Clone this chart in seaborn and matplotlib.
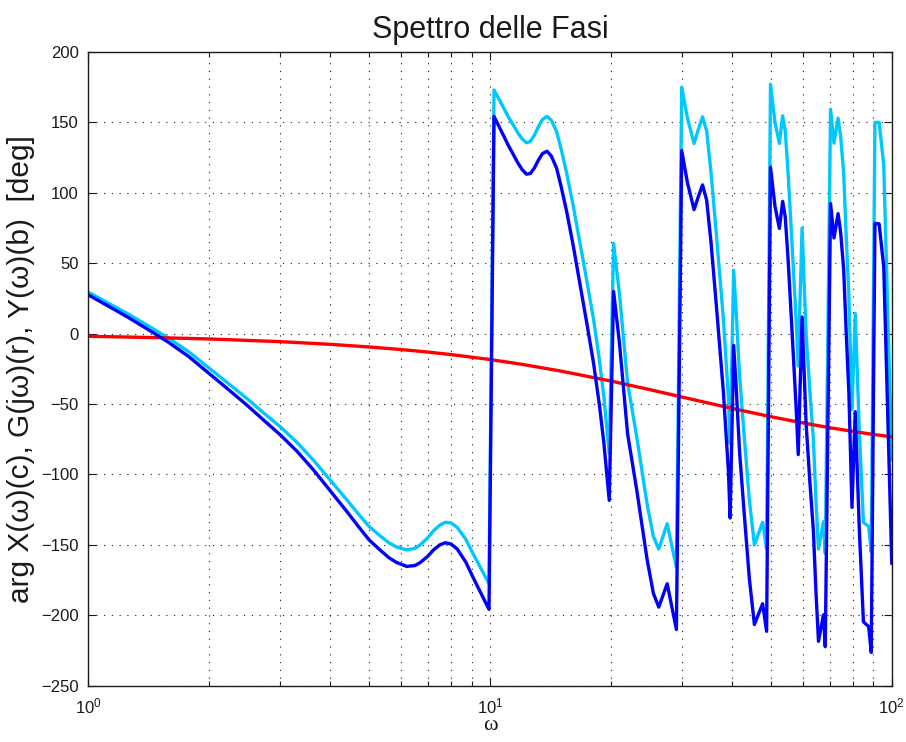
import numpy as np
import pandas as pd
import matplotlib
matplotlib.use("Agg")
import matplotlib.pyplot as plt
import seaborn as sns
from matplotlib.ticker import LogLocator, NullFormatter

# Frequency grid (rad/s) shared by the input X and output Y phase curves
omega_xy = [
    1.00, 1.12, 1.25, 1.41, 1.58, 1.78, 2.00, 2.20, 2.48, 2.75, 3.00, 3.30,
    3.63, 4.00, 4.40, 4.70, 5.00, 5.32, 5.60, 5.85, 6.20, 6.50, 6.70, 7.00,
    7.23, 7.50, 7.74, 8.00, 8.28, 8.70, 9.10, 9.50, 9.94,
    10.23, 10.50, 10.80, 11.10, 11.40, 11.70, 12.00, 12.32, 12.60, 12.90,
    13.20, 13.50, 13.86, 14.20, 14.64, 15.00,
    15.50, 16.10, 16.70, 17.40, 18.10, 18.70, 19.20, 19.80,
    20.30, 21.00, 22.00, 23.20, 24.60, 25.50, 26.30, 27.60, 29.10,
    30.00, 31.00, 32.20, 33.00, 33.80, 34.60, 35.50, 36.70, 38.10, 39.20, 39.60,
    40.40, 41.00, 41.80, 42.90, 44.20, 45.50, 47.70, 48.80,
    49.90, 51.20, 52.50, 53.50, 54.30, 55.20, 56.40, 57.80, 58.50,
    59.80, 61.20, 62.50, 63.80, 64.80, 65.70, 67.60, 68.30,
    70.40, 71.80, 73.50, 74.60, 75.90, 77.00, 78.20, 79.60,
    81.10, 83.00, 85.00, 87.60, 88.90,
    90.80, 93.00, 95.50, 100.0,
]

# arg X(w) in degrees (cyan)
phase_x = [
    29.4, 21.7, 14.3, 5.5, -3.0, -13.0, -24.6, -34.0, -46.0, -57.0, -66.0, -77.0,
    -89.7, -104.0, -118.0, -128.0, -137.0, -143.5, -148.5, -151.5, -153.6, -152.5, -150.0, -145.0,
    -140.0, -136.0, -134.0, -134.5, -137.5, -146.0, -157.0, -167.0, -177.5,
    173.0, 167.0, 160.5, 154.0, 148.5, 143.0, 138.5, 135.5, 136.5, 141.0,
    147.0, 152.0, 154.3, 151.5, 143.6, 132.0,
    114.5, 91.0, 66.0, 38.0, 10.0, -18.0, -45.0, -85.0,
    64.0, 28.0, -35.0, -74.0, -121.0, -144.0, -153.0, -135.0, -166.0,
    175.0, 153.0, 135.0, 145.0, 154.0, 144.0, 114.0, 66.0, 10.0, -45.0, -78.0,
    45.0, 15.0, -30.0, -72.0, -118.0, -150.0, -134.0, -153.0,
    177.0, 150.0, 135.0, 154.6, 144.0, 114.0, 66.0, 10.0, -23.0,
    75.0, 0.0, -40.0, -75.0, -120.0, -153.0, -133.5, -156.0,
    159.3, 135.2, 153.0, 140.0, 114.0, 70.0, 27.0, -54.0,
    14.2, -68.0, -134.0, -137.0, -155.0,
    150.0, 150.0, 120.0, -90.0,
]

# arg Y(w) in degrees (blue)
phase_y = [
    27.5, 19.6, 11.9, 2.8, -6.0, -16.4, -28.4, -38.2, -50.7, -62.2, -71.7, -83.3,
    -96.6, -111.6, -126.3, -136.9, -146.5, -153.6, -159.1, -162.5, -165.3, -164.7, -162.6, -158.1,
    -153.6, -150.0, -148.5, -149.4, -152.9, -162.2, -173.9, -184.6, -195.8,
    154.2, 147.7, 140.7, 133.7, 127.7, 121.7, 116.7, 113.2, 113.7, 117.7,
    123.3, 127.8, 129.5, 126.2, 117.6, 105.4,
    87.2, 62.8, 36.9, 7.9, -21.1, -49.9, -77.6, -118.4,
    29.9, -7.0, -71.3, -111.7, -160.4, -184.4, -194.2, -177.6, -210.1,
    130.0, 107.1, 88.0, 97.3, 105.6, 94.9, 64.2, 15.3, -41.8, -97.6, -130.9,
    -8.4, -38.8, -84.3, -127.0, -173.8, -206.6, -191.8, -211.4,
    118.0, 90.4, 74.7, 93.9, 82.9, 52.5, 4.0, -52.6, -85.9,
    11.7, -63.9, -104.4, -139.8, -185.2, -218.5, -199.6, -222.3,
    92.4, 67.9, 85.2, 71.9, 45.6, 1.3, -42.0, -123.4,
    -55.5, -138.1, -204.6, -208.1, -226.4,
    78.3, 77.9, 47.4, -163.3,
]

# arg G(jw) in degrees (red)
omega_g = [1, 1.5, 2, 3, 4, 5, 6, 7, 8, 10, 12, 15, 20, 25, 30, 40, 50, 60, 70, 80, 90, 100]
phase_g = [-1.9, -2.9, -3.8, -5.7, -7.6, -9.5, -11.3, -13.1, -14.9, -18.4, -21.8, -26.6,
           -33.7, -39.8, -45.0, -53.1, -59.0, -63.4, -66.8, -69.4, -71.6, -73.3]

y_ticks = list(range(-250, 201, 50))

df_xy = pd.DataFrame({"omega": omega_xy, "X": phase_x, "Y": phase_y})
df_g = pd.DataFrame({"omega": omega_g, "G": phase_g})

sns.set_theme(style="white")
plt.rcParams["font.family"] = ["Liberation Sans", "DejaVu Sans"]
plt.rcParams["mathtext.fontset"] = "custom"
plt.rcParams["mathtext.rm"] = "Liberation Sans"

fig = plt.figure(figsize=(9.06, 7.42), dpi=100)
fig.patch.set_facecolor("white")
ax = fig.add_axes([0.0975, 0.0759, 0.8868, 0.8541])
ax.set_facecolor("white")

lw = 2.4
sns.lineplot(data=df_xy, x="omega", y="X", ax=ax, color="#00c8ff", lw=lw,
             estimator=None, sort=False, legend=False)
sns.lineplot(data=df_g, x="omega", y="G", ax=ax, color="#ff0000", lw=lw,
             estimator=None, sort=False, legend=False)
sns.lineplot(data=df_xy, x="omega", y="Y", ax=ax, color="#0000ff", lw=lw,
             estimator=None, sort=False, legend=False)

ax.set_xscale("log")
ax.set_xlim(1, 100)
ax.set_ylim(-250, 200)
ax.set_yticks(y_ticks)
ax.xaxis.set_major_locator(LogLocator(base=10))
ax.xaxis.set_minor_locator(LogLocator(base=10, subs=np.arange(2, 10)))
ax.xaxis.set_minor_formatter(NullFormatter())

dot = (0, (1, 6))
ax.set_axisbelow(True)
ax.grid(True, which="major", ls=dot, lw=0.8, color="k")
ax.grid(True, which="minor", axis="x", ls=dot, lw=0.8, color="k")

ax.tick_params(which="both", direction="in", top=True, right=True,
               bottom=True, left=True, color="k", width=0.8)
ax.tick_params(which="major", length=6, labelsize=12, labelcolor="k")
ax.tick_params(axis="x", which="major", pad=7.5)
ax.tick_params(axis="y", which="major", pad=7)
ax.tick_params(which="minor", length=3.5)
for s in ax.spines.values():
    s.set_color("k")
    s.set_linewidth(1.0)

ax.set_title("Spettro delle Fasi", fontsize=22, pad=10, color="k")
ax.set_ylabel("arg X(ω)(c), G(jω)(r), Y(ω)(b)  [deg]", fontsize=21.5, color="k")
ax.set_xlabel("ω", fontsize=16, color="k", family=["Liberation Serif", "DejaVu Serif"])
ax.yaxis.set_label_coords(-0.066, 0.5)
ax.xaxis.set_label_coords(0.5, -0.048)

fig.savefig("out.png", dpi=100, facecolor="white")
